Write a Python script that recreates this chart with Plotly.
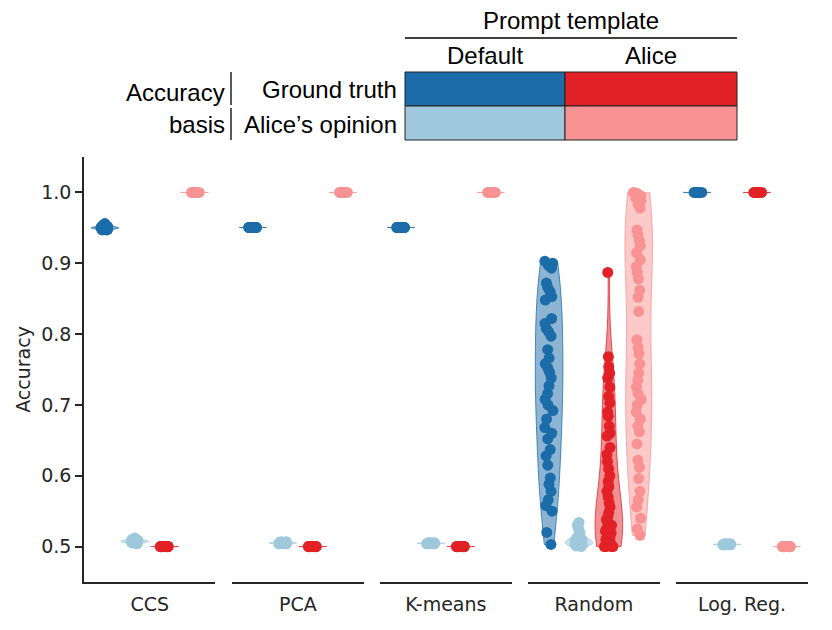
import plotly.graph_objects as go

# ---------------- data ----------------
groups = ["CCS", "PCA", "K-means", "Random", "Log. Reg."]
series = ["Default / Ground truth", "Default / Alice's opinion",
          "Alice / Ground truth", "Alice / Alice's opinion"]
colors = ["#1b6ca8", "#9fc8dd", "#e22126", "#f99393"]

ccs_def_truth = [0.950, 0.951, 0.949, 0.952, 0.948, 0.950, 0.953, 0.947, 0.951, 0.949,
                 0.950, 0.954, 0.948, 0.952, 0.950, 0.956, 0.949, 0.951, 0.947, 0.950]
ccs_def_alice = [0.507, 0.508, 0.506, 0.509, 0.505, 0.510, 0.507, 0.508, 0.504, 0.511,
                 0.506, 0.509, 0.507, 0.508, 0.512, 0.505, 0.507, 0.509, 0.506, 0.508]
ccs_alice_truth = [0.5000, 0.5001, 0.4999, 0.5000, 0.5001, 0.4999, 0.5000, 0.5000,
                   0.5001, 0.4999, 0.5000, 0.5000, 0.5001, 0.4999, 0.5000, 0.5000]
ccs_alice_alice = [1.0000, 0.9999, 0.9998, 1.0000, 0.9999, 0.9998, 1.0000, 0.9999,
                   1.0000, 0.9998, 0.9999, 1.0000, 0.9999, 1.0000, 0.9998, 1.0000]

pca_def_truth = [0.9505, 0.9506, 0.9504, 0.9505, 0.9506, 0.9504, 0.9505, 0.9505,
                 0.9506, 0.9504, 0.9505, 0.9505, 0.9506, 0.9504, 0.9505, 0.9505]
pca_def_alice = [0.505, 0.506, 0.504, 0.505, 0.507, 0.504, 0.505, 0.506, 0.505, 0.504,
                 0.506, 0.505, 0.507, 0.505, 0.504, 0.506]
pca_alice_truth = [0.5000, 0.5001, 0.4999, 0.5000, 0.5001, 0.4999, 0.5000, 0.5000,
                   0.5001, 0.4999, 0.5000, 0.5000, 0.5001, 0.4999, 0.5000, 0.5000]
pca_alice_alice = [1.0000, 0.9999, 0.9998, 1.0000, 0.9999, 0.9998, 1.0000, 0.9999,
                   1.0000, 0.9998, 0.9999, 1.0000, 0.9999, 1.0000, 0.9998, 1.0000]

km_def_truth = [0.9505, 0.9506, 0.9504, 0.9505, 0.9506, 0.9504, 0.9505, 0.9505,
                0.9506, 0.9504, 0.9505, 0.9505, 0.9506, 0.9504, 0.9505, 0.9505]
km_def_alice = [0.5045, 0.5050, 0.5040, 0.5045, 0.5055, 0.5040, 0.5045, 0.5050,
                0.5045, 0.5040, 0.5050, 0.5045, 0.5055, 0.5045, 0.5040, 0.5050]
km_alice_truth = [0.5000, 0.5001, 0.4999, 0.5000, 0.5001, 0.4999, 0.5000, 0.5000,
                  0.5001, 0.4999, 0.5000, 0.5000, 0.5001, 0.4999, 0.5000, 0.5000]
km_alice_alice = [1.0000, 0.9999, 0.9998, 1.0000, 0.9999, 0.9998, 1.0000, 0.9999,
                  1.0000, 0.9998, 0.9999, 1.0000, 0.9999, 1.0000, 0.9998, 1.0000]

rnd_def_truth = [0.903, 0.900, 0.897, 0.893, 0.872, 0.866, 0.860, 0.853, 0.848, 0.822,
                 0.815, 0.808, 0.803, 0.797, 0.778, 0.766, 0.758, 0.752, 0.746, 0.738,
                 0.727, 0.716, 0.708, 0.700, 0.692, 0.680, 0.668, 0.660, 0.652, 0.637,
                 0.628, 0.615, 0.597, 0.588, 0.578, 0.566, 0.558, 0.550, 0.520, 0.503]
rnd_def_alice = [0.500, 0.501, 0.502, 0.503, 0.504, 0.505, 0.506, 0.507, 0.508, 0.509,
                 0.510, 0.512, 0.514, 0.516, 0.519, 0.522, 0.526, 0.530, 0.534, 0.503,
                 0.505, 0.507, 0.510, 0.504, 0.506]
rnd_alice_truth = [0.887, 0.768, 0.754, 0.745, 0.738, 0.725, 0.712, 0.703, 0.690, 0.684,
                   0.670, 0.660, 0.656, 0.640, 0.630, 0.620, 0.610, 0.600, 0.592, 0.585,
                   0.578, 0.570, 0.562, 0.556, 0.548, 0.542, 0.538, 0.533, 0.530, 0.526,
                   0.522, 0.519, 0.516, 0.513, 0.510, 0.508, 0.506, 0.504, 0.502, 0.501,
                   0.500, 0.500, 0.500, 0.500]
rnd_alice_alice = [1.000, 0.999, 0.997, 0.995, 0.992, 0.988, 0.983, 0.978, 0.947, 0.940,
                   0.932, 0.925, 0.915, 0.905, 0.895, 0.887, 0.878, 0.862, 0.852, 0.832,
                   0.792, 0.781, 0.772, 0.758, 0.745, 0.735, 0.725, 0.716, 0.708, 0.700,
                   0.690, 0.680, 0.670, 0.662, 0.645, 0.622, 0.612, 0.596, 0.578, 0.566,
                   0.556, 0.540, 0.525, 0.516]

lr_def_truth = [1.0000, 0.9999, 0.9998, 1.0000, 0.9999, 0.9998, 1.0000, 0.9999,
                1.0000, 0.9998, 0.9999, 1.0000, 0.9999, 1.0000, 0.9998, 1.0000]
lr_def_alice = [0.5030, 0.5035, 0.5025, 0.5030, 0.5040, 0.5025, 0.5030, 0.5035,
                0.5030, 0.5025, 0.5035, 0.5030, 0.5040, 0.5030, 0.5025, 0.5035]
lr_alice_truth = [1.0000, 0.9999, 0.9998, 1.0000, 0.9999, 0.9998, 1.0000, 0.9999,
                  1.0000, 0.9998, 0.9999, 1.0000, 0.9999, 1.0000, 0.9998, 1.0000]
lr_alice_alice = [0.5000, 0.5001, 0.4999, 0.5000, 0.5001, 0.4999, 0.5000, 0.5000,
                  0.5001, 0.4999, 0.5000, 0.5000, 0.5001, 0.4999, 0.5000, 0.5000]

group_data = {
    "CCS": [ccs_def_truth, ccs_def_alice, ccs_alice_truth, ccs_alice_alice],
    "PCA": [pca_def_truth, pca_def_alice, pca_alice_truth, pca_alice_alice],
    "K-means": [km_def_truth, km_def_alice, km_alice_truth, km_alice_alice],
    "Random": [rnd_def_truth, rnd_def_alice, rnd_alice_truth, rnd_alice_alice],
    "Log. Reg.": [lr_def_truth, lr_def_alice, lr_alice_truth, lr_alice_alice],
}

y_ticks = [0.5, 0.6, 0.7, 0.8, 0.9, 1.0]
legend_cols = ["Default", "Alice"]
legend_rows = ["Ground truth", "Alice\u2019s opinion"]

# ---------------- layout helpers ----------------
# page has an 8px body margin, so the figure is a bit smaller and offset
OFF = 8
W, H = 832 - OFF, 630 - OFF
PL, PR, PT, PB = 84, 808, 157, 582          # plot area in page pixels
ML, MT = PL - OFF, PT - OFF
MR, MB = (W + OFF) - PR, (H + OFF) - PB
PW, PH = PR - PL, PB - PT


def px(xp):
    return (xp - PL) / PW


def py(yp):
    return (PB - yp) / PH


def rgba(hexc, a):
    h = hexc.lstrip("#")
    r, g, b = int(h[0:2], 16), int(h[2:4], 16), int(h[4:6], 16)
    return f"rgba({r},{g},{b},{a})"


offsets = [-0.3, -0.1, 0.1, 0.3]
seg_w = 0.1816
seg_gap = 0.0229

fig = go.Figure()
axis_font = dict(family="DejaVu Sans", size=19, color="#262626")

for gi, g in enumerate(groups):
    xa = "x" if gi == 0 else f"x{gi + 1}"
    for si, vals in enumerate(group_data[g]):
        c = colors[si]
        fig.add_trace(go.Violin(
            y=vals, x0=offsets[si], xaxis=xa, yaxis="y",
            width=0.185, spanmode="hard", scalemode="width",
            points="all", pointpos=0, jitter=0.38,
            marker=dict(color=c, size=11, opacity=1, line=dict(width=0)),
            line=dict(color=rgba(c, 0.75), width=1),
            fillcolor=rgba(c, 0.5),
            name=series[si], showlegend=False, hoveron="points",
        ))
    start = gi * (seg_w + seg_gap)
    key = "xaxis" if gi == 0 else f"xaxis{gi + 1}"
    fig.layout[key] = dict(
        domain=[start, min(start + seg_w, 1.0)], anchor="y",
        range=[-0.44, 0.44], showline=True, linewidth=1.5, linecolor="#262626",
        ticks="", tickvals=[0], ticktext=[g], tickfont=axis_font,
        ticklabelstandoff=4,
        showgrid=False, zeroline=False, fixedrange=True,
    )

fig.update_layout(
    width=W, height=H,
    margin=dict(l=ML, r=MR, t=MT, b=MB),
    paper_bgcolor="white", plot_bgcolor="white",
    violinmode="overlay",
    yaxis=dict(
        range=[0.45, 1.05], anchor="x", showline=True, linewidth=1.5,
        linecolor="#262626", ticks="outside", ticklen=7, tickwidth=1.5,
        tickcolor="#262626", tickvals=y_ticks,
        ticktext=[f"{v:.1f}" for v in y_ticks], tickfont=axis_font,
        showgrid=False, zeroline=False,
        title=dict(text="Accuracy", font=axis_font, standoff=6),
    ),
)

# ---------------- legend table ----------------
shapes = []
cell_x = [405, 565, 737]
cell_y = [72, 106, 140]
for r in range(2):
    for cidx in range(2):
        shapes.append(dict(
            type="rect", xref="paper", yref="paper",
            x0=px(cell_x[cidx]), x1=px(cell_x[cidx + 1]),
            y0=py(cell_y[r + 1]), y1=py(cell_y[r]),
            fillcolor=colors[cidx * 2 + r], line=dict(color="#222222", width=1),
        ))
shapes.append(dict(type="line", xref="paper", yref="paper",
                   x0=px(405), x1=px(737), y0=py(38), y1=py(38),
                   line=dict(color="black", width=1.3)))
shapes.append(dict(type="line", xref="paper", yref="paper",
                   x0=px(231), x1=px(231), y0=py(72), y1=py(105),
                   line=dict(color="black", width=1.3)))
shapes.append(dict(type="line", xref="paper", yref="paper",
                   x0=px(231), x1=px(231), y0=py(108), y1=py(140),
                   line=dict(color="black", width=1.3)))

lf = dict(family="Liberation Sans, Arial", size=24, color="black")
ann = [
    dict(text="Prompt template", x=px(571), y=py(21), xanchor="center"),
    dict(text=legend_cols[0], x=px(485), y=py(55), xanchor="center"),
    dict(text=legend_cols[1], x=px(651), y=py(55), xanchor="center"),
    dict(text=legend_rows[0], x=px(399), y=py(89), xanchor="right"),
    dict(text=legend_rows[1], x=px(399), y=py(124), xanchor="right"),
    dict(text="Accuracy", x=px(227), y=py(92), xanchor="right"),
    dict(text="basis", x=px(227), y=py(124), xanchor="right"),
]
for a in ann:
    a.update(xref="paper", yref="paper", yanchor="middle", showarrow=False,
             font=lf, xshift=0)
fig.update_layout(shapes=shapes, annotations=ann)

fig.write_html("out.html")
